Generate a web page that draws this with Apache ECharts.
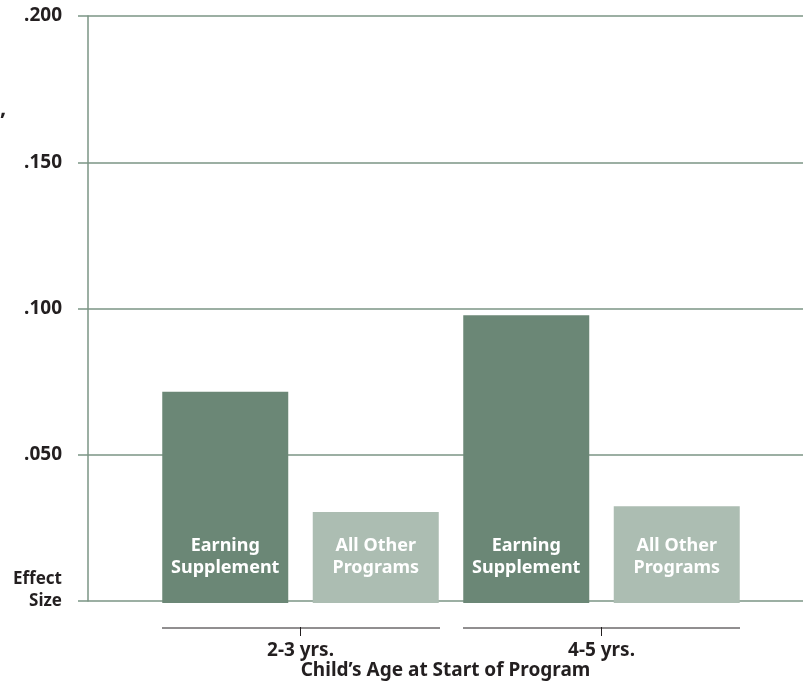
<!DOCTYPE html>
<html>
<head>
<meta charset="utf-8">
<script src="https://cdn.jsdelivr.net/npm/echarts@6/dist/echarts.min.js"></script>
<style>
  html, body { margin: 0; padding: 0; background: #fff; }
  #chart { width: 803px; height: 685px; }
</style>
</head>
<body>
<div id="chart"></div>
<script>
// age groups and programs
const ages = ['2-3 yrs.', '4-5 yrs.']
const programs = ['Earning\nSupplement', 'All Other\nPrograms']
const earningSupplement = [0.072, 0.098]
const allOther = [0.031, 0.033]
const yTicks = [0, 0.05, 0.1, 0.15, 0.2]

const FONT = 'Noto Sans'
const TEXT = '#231f20'
const AXIS = '#7b9585'
const barColors = ['#6b8776', '#acbdb2']

// flatten into 4 bars: age x program
const cats = []
const barData = []
ages.forEach((age, i) => {
  const vals = [earningSupplement[i], allOther[i]]
  programs.forEach((p, j) => {
    cats.push(age + ' ' + p)
    barData.push({
      value: vals[j],
      itemStyle: { color: barColors[j] },
      label: { formatter: p }
    })
  })
})

const fmt = v => v === 0 ? '' : v.toFixed(3).replace(/^0/, '')

const chart = echarts.init(document.getElementById('chart'))
chart.setOption({
  animation: false,
  textStyle: { fontFamily: FONT },
  grid: [
    { left: 88, right: 0, top: 16, bottom: 82 },
    { left: 150, right: 51, top: 16, bottom: 82 }
  ],
  xAxis: [
    {
      gridIndex: 0,
      type: 'category',
      data: ['x'],
      axisLine: { show: false },
      axisTick: { show: false },
      axisLabel: { show: false },
      name: 'Child\u2019s Age at Start of Program',
      nameLocation: 'middle',
      nameGap: 60,
      nameTextStyle: { color: TEXT, fontSize: 19, fontWeight: 'bold', fontFamily: FONT }
    },
    {
      gridIndex: 1,
      type: 'category',
      data: cats,
      axisLine: { show: false },
      axisTick: { show: false },
      axisLabel: { show: false }
    },
    {
      gridIndex: 1,
      type: 'category',
      data: ages,
      position: 'bottom',
      offset: 24,
      axisLine: { show: false },
      axisTick: { show: true, alignWithLabel: true, inside: false, length: 9, lineStyle: { color: TEXT, width: 1 } },
      axisLabel: { color: TEXT, fontSize: 19, fontWeight: 'bold', fontFamily: FONT, margin: 14 }
    }
  ],
  yAxis: [
    {
      gridIndex: 0,
      type: 'value',
      min: yTicks[0],
      max: yTicks[yTicks.length - 1],
      interval: 0.05,
      axisLine: { show: true, lineStyle: { color: AXIS, width: 1.5 } },
      axisTick: { show: true, length: 10, lineStyle: { color: AXIS, width: 1.5 } },
      splitLine: { show: true, lineStyle: { color: AXIS, width: 1.5 } },
      axisLabel: { formatter: fmt, color: TEXT, fontSize: 19, fontWeight: 'bold', fontFamily: FONT, margin: 26 }
    },
    {
      gridIndex: 1,
      type: 'value',
      min: yTicks[0],
      max: yTicks[yTicks.length - 1],
      show: false
    }
  ],
  series: [
    {
      type: 'bar',
      xAxisIndex: 1,
      yAxisIndex: 1,
      barWidth: 126,
      data: barData,
      label: {
        show: true,
        position: 'insideBottom',
        distance: 24,
        color: '#fff',
        fontSize: 18,
        fontWeight: 'bold',
        fontFamily: FONT,
        lineHeight: 22,
        align: 'center'
      }
    }
  ],
  graphic: [
    { type: 'line', shape: { x1: 162, y1: 628, x2: 440, y2: 628 }, style: { stroke: TEXT, lineWidth: 1 } },
    { type: 'line', shape: { x1: 463, y1: 628, x2: 740, y2: 628 }, style: { stroke: TEXT, lineWidth: 1 } },
    {
      type: 'text', x: 62, y: 568,
      style: { text: 'Effect\nSize', fill: TEXT, font: 'bold 17px "Noto Sans"', align: 'right', lineHeight: 22 }
    },
    {
      type: 'text', x: 0, y: 98,
      style: { text: ',', fill: TEXT, font: 'bold 22px "Noto Sans"' }
    }
  ]
})
</script>
</body>
</html>
